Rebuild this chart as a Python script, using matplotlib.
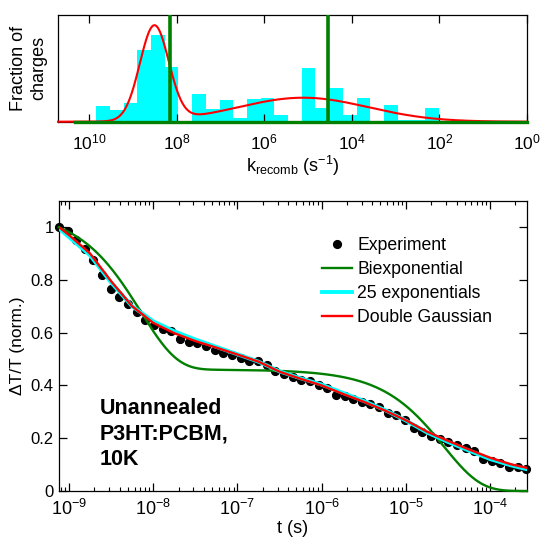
import numpy as np
import matplotlib
matplotlib.use("Agg")
import matplotlib.pyplot as plt
from matplotlib.ticker import LogLocator, NullLocator, FuncFormatter, MultipleLocator
from matplotlib.lines import Line2D

plt.rcParams.update({
    "font.family": "Liberation Sans",
    "mathtext.fontset": "custom",
    "mathtext.rm": "Liberation Sans",
    "mathtext.it": "Liberation Sans:italic",
    "mathtext.bf": "Liberation Sans:bold",
    "mathtext.default": "regular",
    "axes.linewidth": 0.9,
    "xtick.direction": "in",
    "ytick.direction": "in",
})

GREEN = "#007f00"
CYAN = "#00ffff"
RED = "#ff0000"

# --- rate distributions (top panel) ---
# 25 exponentials: log10 of the bin-centre rates (fast -> slow) and fraction of charges
hist_logk = np.linspace(9.68, 2.17, 25)
hist_width = 0.313  # decades per bin
hist_frac = [0.029, 0.0216, 0.0338, 0.1324, 0.1593, 0.1016, 0.0, 0.0511, 0.024, 0.0401,
             0.0074, 0.0425, 0.0443, 0.0116, 0.0, 0.0984, 0.0246, 0.0628, 0.0116, 0.043,
             0.0, 0.0301, 0.0028, 0.0028, 0.0253]

# double Gaussian in log10(k)
gauss_centre = [8.51, 5.11]
gauss_sigma = [0.33, 1.48]
gauss_amp = [0.175, 0.0443]

# biexponential: two rates (log10 k) and amplitudes
biexp_logk = [8.15, 4.55]
biexp_amp = [0.60, 0.46]

# --- transient data (bottom panel) ---
exp_logt = np.linspace(-9.12, -3.57, 55)
exp_y = [1.0, 0.986, 0.951, 0.915, 0.877, 0.82, 0.767, 0.735, 0.707, 0.677,
         0.646, 0.630, 0.615, 0.605, 0.575, 0.566, 0.562, 0.548, 0.536, 0.524,
         0.515, 0.504, 0.491, 0.493, 0.479, 0.455, 0.443, 0.432, 0.422, 0.418,
         0.403, 0.39, 0.365, 0.36, 0.348, 0.339, 0.328, 0.32, 0.295, 0.289,
         0.27, 0.238, 0.225, 0.208, 0.197, 0.187, 0.175, 0.162, 0.152, 0.121,
         0.115, 0.105, 0.09, 0.092, 0.083]

# fitted curves
fit_logt = [-9.12, -9.0, -8.75, -8.5, -8.25, -8.0, -7.75, -7.5, -7.25, -7.0, -6.75,
            -6.5, -6.25, -6.0, -5.75, -5.5, -5.25, -5.0, -4.75, -4.5, -4.25, -4.0,
            -3.75, -3.57]
dgauss_y = [1.0, 0.970, 0.900, 0.795, 0.700, 0.637, 0.598, 0.568, 0.543, 0.517, 0.490,
            0.452, 0.425, 0.400, 0.368, 0.338, 0.305, 0.268, 0.225, 0.190, 0.157, 0.126,
            0.101, 0.088]
multi_y = [0.995, 0.962, 0.893, 0.790, 0.700, 0.643, 0.605, 0.574, 0.546, 0.518, 0.490,
           0.453, 0.427, 0.403, 0.372, 0.341, 0.307, 0.267, 0.222, 0.186, 0.153, 0.121,
           0.097, 0.083]

t_min, t_max = 7.55e-10, 2.72e-4
k_min, k_max = 1.0, 10 ** 10.71

fig = plt.figure(figsize=(5.41, 5.38), dpi=100)
ax1 = fig.add_axes([0.1072, 0.7738, 0.8669, 0.1989])
ax2 = fig.add_axes([0.1085, 0.0874, 0.8650, 0.5396])

# top panel
lk = np.array(hist_logk)
left = 10 ** (lk + hist_width / 2)
right = 10 ** (lk - hist_width / 2)
ax1.bar(right, hist_frac, width=left - right, align="edge", color=CYAN, linewidth=0)

lk_grid = np.linspace(10.71, 0.0, 800)
g = np.zeros_like(lk_grid)
for c, s, a in zip(gauss_centre, gauss_sigma, gauss_amp):
    g += a * np.exp(-(lk_grid - c) ** 2 / (2 * s ** 2))
ax1.plot(10 ** lk_grid, g, color=RED, lw=1.5, clip_on=False, zorder=3)

ax1.plot([10 ** 10.32, k_min], [0, 0], color=GREEN, lw=2.4, clip_on=False, zorder=4)
for lkb in biexp_logk:
    ax1.axvline(10 ** lkb, color=GREEN, lw=2.6, zorder=4)

ax1.set_xscale("log")
ax1.set_xlim(k_max, k_min)
ax1.set_ylim(0, 0.1976)
ax1.xaxis.set_major_locator(LogLocator(base=100.0, numticks=10))
ax1.xaxis.set_minor_locator(NullLocator())
ax1.yaxis.set_major_locator(NullLocator())
ax1.tick_params(axis="x", which="major", top=True, bottom=True, length=6, width=0.9,
                labelsize=12.5, pad=8)
ax1.set_xlabel(r"k$_{recomb}$ (s$^{-1}$)", fontsize=13, labelpad=0.5)
ax1.set_ylabel("Fraction of\ncharges", fontsize=13, labelpad=8)

# bottom panel
t_fit = np.logspace(np.log10(t_min), np.log10(t_max), 500)
biexp = np.zeros_like(t_fit)
for lkb, a in zip(biexp_logk, biexp_amp):
    biexp += a * np.exp(-(10 ** lkb) * t_fit)

ax2.plot(10 ** exp_logt, exp_y, "o", color="black", ms=5.6, zorder=2, clip_on=False)
ax2.plot(t_fit, biexp, color=GREEN, lw=1.7, zorder=3, clip_on=False)
ax2.plot(10 ** np.array(fit_logt), multi_y, color=CYAN, lw=2.8, zorder=4)
ax2.plot(10 ** np.array(fit_logt), dgauss_y, color=RED, lw=1.7, zorder=5)

ax2.set_xscale("log")
ax2.set_xlim(t_min, t_max)
ax2.set_ylim(0, 1.1)
ax2.yaxis.set_major_locator(MultipleLocator(0.2))
ax2.yaxis.set_major_formatter(FuncFormatter(lambda v, p: f"{v:g}"))
ax2.xaxis.set_major_locator(LogLocator(base=10.0, numticks=12))
ax2.xaxis.set_minor_locator(LogLocator(base=10.0, subs=np.arange(2, 10), numticks=12))
ax2.tick_params(axis="both", which="major", top=True, right=True, length=6, width=0.9,
                labelsize=12)
ax2.tick_params(axis="x", which="major", labelsize=13, pad=5.5)
ax2.tick_params(axis="x", which="minor", top=True, length=3.2, width=0.8)
ax2.set_xlabel("t (s)", fontsize=13, labelpad=1)
ax2.set_ylabel("ΔT/T (norm.)", fontsize=12.5, labelpad=4)

handles = [
    Line2D([], [], ls="none", marker="o", color="black", ms=5.6),
    Line2D([], [], color=GREEN, lw=1.7),
    Line2D([], [], color=CYAN, lw=2.8),
    Line2D([], [], color=RED, lw=1.7),
]
labels = ["Experiment", "Biexponential", "25 exponentials", "Double Gaussian"]
ax2.legend(handles, labels, loc="upper left", bbox_to_anchor=(0.563, 0.874),
           frameon=False, fontsize=12.7, borderpad=0, borderaxespad=0,
           handlelength=1.7, handletextpad=0.3, labelspacing=0.4)

ax2.text(0.087, 0.322, "Unannealed\nP3HT:PCBM,\n10K", transform=ax2.transAxes,
         fontsize=15.5, fontweight="bold", va="top", ha="left", linespacing=1.3)

fig.savefig("out.png", dpi=100)
